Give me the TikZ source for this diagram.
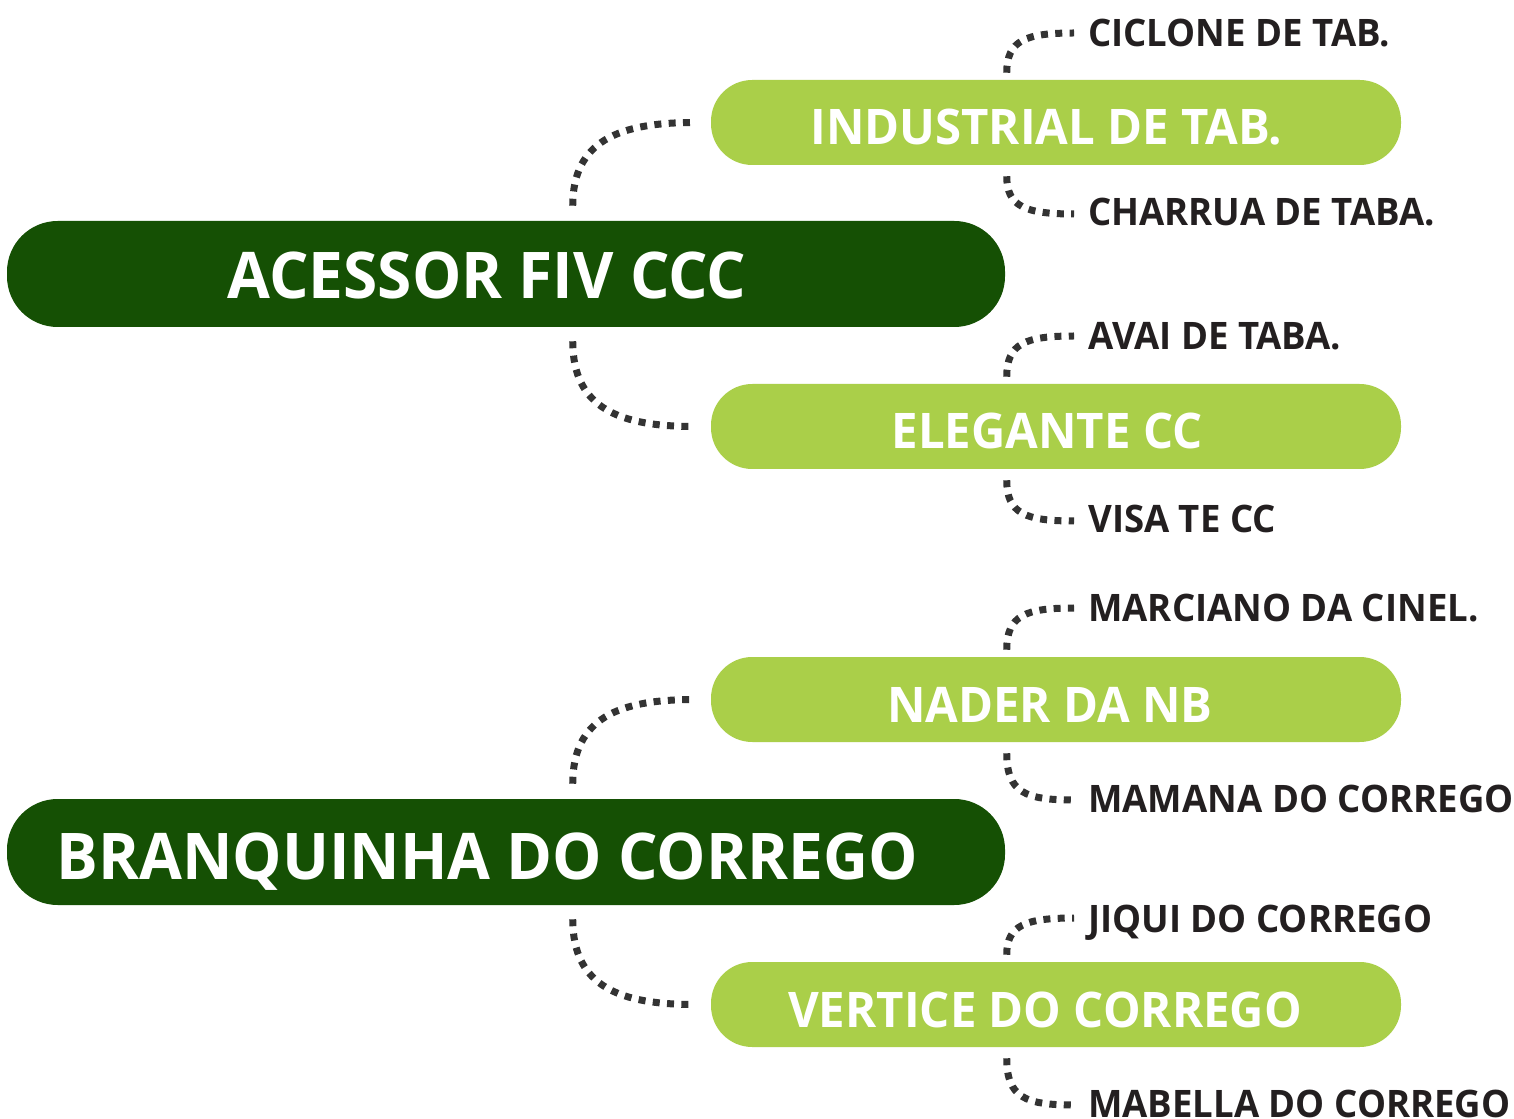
\documentclass[tikz,border=0pt]{standalone}
\usepackage{fontspec}
\setmainfont{Open Sans}[FakeStretch=0.965]
\usetikzlibrary{calc}
\definecolor{dk}{HTML}{155004}
\definecolor{lt}{HTML}{AACF49}
\definecolor{dotc}{HTML}{333333}
\definecolor{leafc}{HTML}{231F20}
\begin{document}
\begin{tikzpicture}[x=0.75pt,y=-0.75pt,
  rootbox/.style={fill=dk, draw=none, rounded corners=38pt, minimum width=748.5pt, minimum height=79.5pt, inner sep=0pt},
  midbox/.style={fill=lt, draw=none, rounded corners=31pt, minimum width=517.5pt, minimum height=63.75pt, inner sep=0pt},
  roottext/.style={anchor=base, inner sep=0pt, text=white, font=\fontsize{48.3pt}{50pt}\selectfont\bfseries},
  midtext/.style={anchor=base, inner sep=0pt, text=white, font=\fontsize{36.8pt}{38pt}\selectfont\bfseries},
  leaftext/.style={anchor=base west, inner sep=0pt, text=leafc, font=\fontsize{28.4pt}{30pt}\selectfont\bfseries},
  conn/.style={draw=dotc, line width=5.25pt, dash pattern=on 5.25pt off 5.5pt},
]
\useasboundingbox (0,0) rectangle (1514,1119);
\fill[white] (0,0) rectangle (1514,1119);

% root boxes
\node[rootbox] (r1) at (506,274) {};
\node[roottext] (r1t) at (487,299) {ACESSOR FIV CCC};
\node[rootbox] (r2) at (506,852) {};
\node[roottext] (r2t) at (487,879) {BRANQUINHA DO CORREGO};

% mid boxes
\node[midbox] (m1) at (1056,122.5) {};
\node[midtext] (m1t) at (1046,145) {INDUSTRIAL DE TAB.};
\node[midbox] (m2) at (1056,426.5) {};
\node[midtext] (m2t) at (1047,449) {ELEGANTE CC};
\node[midbox] (m3) at (1056,699.5) {};
\node[midtext] (m3t) at (1050,722) {NADER DA NB};
\node[midbox] (m4) at (1056,1004.5) {};
\node[midtext] (m4t) at (1045,1027) {VERTICE DO CORREGO};

% leaves
\node[leaftext] (a1) at (1088,47) {CICLONE DE TAB.};
\node[leaftext] (a2) at (1088,226) {CHARRUA DE TABA.};
\node[leaftext] (b1) at (1088,350) {AVAI DE TABA.};
\node[leaftext] (b2) at (1088,533) {VISA TE CC};
\node[leaftext] (c1) at (1088,622) {MARCIANO DA CINEL.};
\node[leaftext] (c2) at (1088,812) {MAMANA DO CORREGO};
\node[leaftext] (e1) at (1088,932) {JIQUI DO CORREGO};
\node[leaftext] (e2) at (1088,1117) {MABELLA DO CORREGO};

% root -> mid connectors
\foreach \r/\up/\dn in {r1/m1/m2, r2/m3/m4}{
  \path let \p1=($(\r.north west)+(566,-15)$), \p2=($(\up.west)+(-16,0)$) in
    [conn] (\p1) .. controls (\x1,\y2-13.5pt) and (\x1+35pt,\y2) .. (\p2);
  \path let \p1=($(\r.south west)+(566,14)$), \p2=($(\dn.west)+(-16,0)$) in
    [conn] (\p1) .. controls (\x1,\y2+13.5pt) and (\x1+35pt,\y2) .. (\p2);
}

% mid -> leaf connectors
\foreach \m/\u/\d in {m1/a1/a2, m2/b1/b2, m3/c1/c2, m4/e1/e2}{
  \path let \p1=($(\m.north west)+(296,-7)$), \p2=($(\u.base west)+(-14,-14)$) in
    [conn] (\p1) .. controls (\x1,\y2-5.5pt) and (\x1+14pt,\y2) .. (\p2);
  \path let \p1=($(\m.south west)+(296,11)$), \p2=($(\d.base west)+(-14,-12)$) in
    [conn] (\p1) .. controls (\x1,\y2+5.5pt) and (\x1+14pt,\y2) .. (\p2);
}
\end{tikzpicture}
\end{document}
